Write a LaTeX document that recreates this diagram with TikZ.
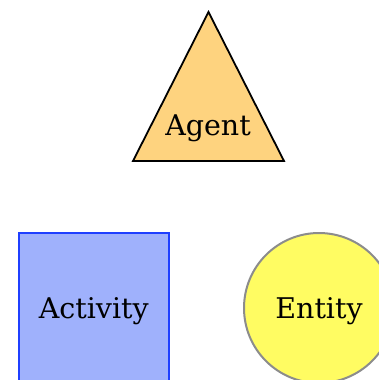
\documentclass[tikz,border=0pt]{standalone}
\usepackage{fontspec}
\setmainfont{DejaVu Serif}
\usepackage{xcolor}
\usetikzlibrary{calc}
\definecolor{agentfill}{HTML}{FED37F}
\definecolor{actfill}{HTML}{9FB1FC}
\definecolor{actline}{HTML}{1F3FFF}
\definecolor{entfill}{HTML}{FFFC62}
\definecolor{entline}{HTML}{8C8C8C}
\tikzset{
	provtext/.style={font=\fontsize{28.5}{30}\selectfont, text height=20pt, text depth=0pt, inner sep=0pt},
	actbox/.style={provtext, draw=actline, line width=2pt, fill=actfill, minimum size=150pt},
	entcirc/.style={provtext, circle, draw=entline, line width=2pt, fill=entfill, minimum size=150pt}
}

\begin{document}
\begin{tikzpicture}[x=1pt, y=-1pt, line join=miter]
    \useasboundingbox (0,0) rectangle (379,380);

    \coordinate (T0) at (208.5, 12);
    \coordinate (T1) at (284, 161);
    \coordinate (T2) at (133, 161);

    \draw[fill=agentfill, line width=1.8pt] (T0)--(T1)--(T2)--cycle;
    \node[provtext, anchor=base] (agent) at (208, 135) {Agent};

    \node[actbox]  (activity) at (93.75, 308) {Activity};
    \node[entcirc] (entity)   at (319, 308)   {Entity};
  \end{tikzpicture}
\end{document}
